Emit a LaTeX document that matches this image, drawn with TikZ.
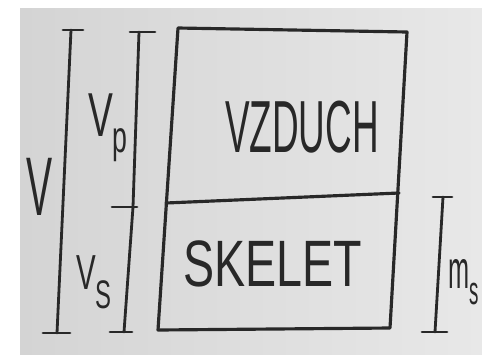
\documentclass[tikz,border=0pt]{standalone}
\usepackage{graphicx}
\usepackage{fontspec}
\setmainfont{Liberation Sans}
\usetikzlibrary{calc}
\definecolor{cInk}{RGB}{40,40,40}
\definecolor{cPaperL}{RGB}{212,212,212}
\definecolor{cPaperR}{RGB}{232,232,232}
\newcommand{\hand}[3]{\scalebox{#1}[1]{\fontsize{#2}{#2}\selectfont #3}}
\tikzset{
	ink/.style   ={draw=cInk, line width=2.4pt, line cap=round, line join=round},
	boxline/.style={ink, line width=2.7pt},
	tick/.style  ={ink, line width=2.3pt},
	handtxt/.style={text=cInk, inner sep=0pt, anchor=center},
}
\begin{document}
\begin{tikzpicture}[x=0.03cm, y=-0.03cm]
	\useasboundingbox (0,0) rectangle (482,354);
	\shade[left color=cPaperL, right color=cPaperR] (20,8) rectangle (482,354);
	% the box
	\coordinate (tl) at (178,28);
	\coordinate (tr) at (407,32);
	\coordinate (br) at (390,328);
	\coordinate (bl) at (158,330);
	\coordinate (dl) at (166,203);
	\coordinate (dr) at (399,193);
	\draw[boxline] (tl) -- (tr) -- (br) -- (bl) -- cycle;
	\draw[boxline] (dl) -- (dr);
	% dimension for V
	\coordinate (vTop) at (71,30);
	\coordinate (vBot) at (57,333);
	\draw[ink] (vTop) -- (vBot);
	\draw[tick] (63,30) -- (83,30);
	\draw[tick] (43,333) -- (70,333);
	% dimension for Vp and Vs
	\coordinate (pTop) at (139,32);
	\coordinate (pMid) at (133,207);
	\coordinate (pBot) at (124,332);
	\draw[ink] (pTop) -- (pMid) -- (pBot);
	\draw[tick] (130,32) -- (155,32);
	\draw[tick] (112,207) -- (137,207);
	\draw[tick] (110,332) -- (132,332);
	% dimension for ms
	\coordinate (mTop) at (443,197);
	\coordinate (mBot) at (435,332);
	\draw[ink] (mTop) -- (mBot);
	\draw[tick] (433,197) -- (452,197);
	\draw[tick] (422,332) -- (447,332);
	% labels
	\node[handtxt] (lblV) at (40,187) {\hand{0.47}{71}{V}};
	\node[handtxt] (lblVp) at (108,128) {\hand{0.6}{53}{V\raisebox{-14pt}{\fontsize{38}{38}\selectfont p}}};
	\node[handtxt] (lblVs) at (94,282) {\hand{0.6}{42}{V\raisebox{-16pt}{\fontsize{34}{34}\selectfont S}}};
	\node[handtxt] (lblAir) at (302,127) {\hand{0.5}{63}{VZDUCH}};
	\node[handtxt] (lblSkel) at (273,264) {\hand{0.71}{56}{SKELET}};
	\node[handtxt, anchor=west] (lblMs) at (448,282) {\hand{0.47}{46}{m\raisebox{-14pt}{\fontsize{34}{34}\selectfont s}}};
\end{tikzpicture}
\end{document}
